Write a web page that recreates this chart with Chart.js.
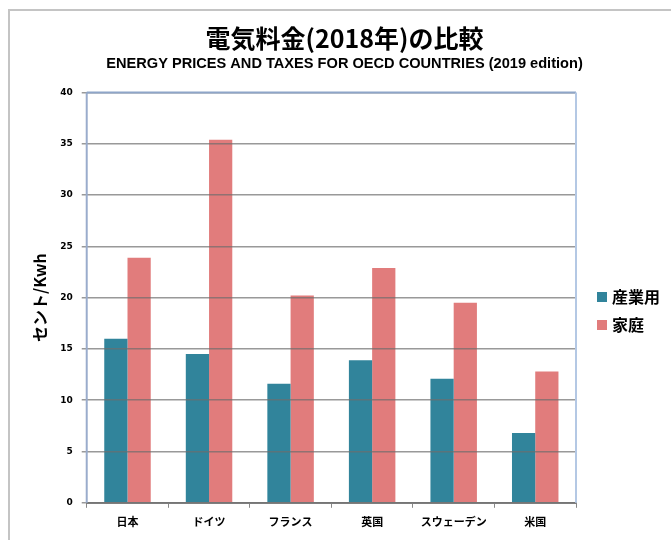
<!DOCTYPE html>
<html lang="ja">
<head>
<meta charset="UTF-8">
<title>電気料金(2018年)の比較</title>
<script src="https://cdn.jsdelivr.net/npm/chart.js"></script>
<style>
    body {
        margin: 0;
        background: #fff;
    }
    #frame {
        position: absolute;
        left: 8px;
        top: 9px;
        width: 663px;
        height: 531px;
        border-left: 2px solid #c4c4c4;
        border-top: 2px solid #c4c4c4;
    }
    #wrap {
        position: absolute;
        left: 0;
        top: 0;
        width: 671px;
        height: 540px;
    }
</style>
</head>
<body>
<div id="frame"></div>
<div id="wrap"><canvas id="chart"></canvas></div>
<script>
    const countries = ['日本', 'ドイツ', 'フランス', '英国', 'スウェーデン', '米国'];
    const industry = [16.0, 14.5, 11.6, 13.9, 12.1, 6.8];
    const household = [23.9, 35.4, 20.2, 22.9, 19.5, 12.8];
    const yTicks = [0, 5, 10, 15, 20, 25, 30, 35, 40];

    const jpFont = '"Noto Sans CJK JP", "DejaVu Sans", sans-serif';

    // plot area frame (left, top, right) + legend on the right side
    const plotExtras = {
        id: 'plotExtras',
        afterDraw(chart) {
            const a = chart.chartArea;
            const ctx = chart.ctx;
            ctx.save();
            ctx.lineWidth = 2;
            ctx.strokeStyle = '#9aaccc';
            ctx.beginPath();
            ctx.moveTo(a.left, a.bottom);
            ctx.lineTo(a.left, a.top);
            ctx.stroke();
            ctx.strokeStyle = '#8ea5c8';
            ctx.beginPath();
            ctx.moveTo(a.left, a.top);
            ctx.lineTo(a.right, a.top);
            ctx.stroke();
            ctx.strokeStyle = '#b4c8e4';
            ctx.beginPath();
            ctx.moveTo(a.right, a.top);
            ctx.lineTo(a.right, a.bottom);
            ctx.stroke();

            // legend
            ctx.font = 'bold 16px ' + jpFont;
            ctx.textBaseline = 'middle';
            chart.data.datasets.forEach((ds, i) => {
                const y = 297 + i * 28;
                ctx.fillStyle = ds.backgroundColor;
                ctx.fillRect(a.right + 21, y - 5, 10, 10);
                ctx.fillStyle = '#000';
                ctx.fillText(ds.label, a.right + 36, y);
            });
            ctx.restore();
        }
    };

    new Chart(document.getElementById('chart'), {
        type: 'bar',
        data: {
            labels: countries,
            datasets: [
                { label: '産業用', data: industry, backgroundColor: '#31849b' },
                { label: '家庭', data: household, backgroundColor: 'rgba(222,110,110,0.9)' }
            ]
        },
        options: {
            responsive: true,
            maintainAspectRatio: false,
            animation: false,
            layout: { padding: { top: 23, left: 30, right: 12, bottom: 5 } },
            datasets: {
                bar: { barPercentage: 1.0, categoryPercentage: 0.57 }
            },
            plugins: {
                title: {
                    display: true,
                    text: '電気料金(2018年)の比較',
                    color: '#000',
                    font: { family: jpFont, size: 25, weight: 'bold' },
                    padding: { top: 0, bottom: 2 }
                },
                subtitle: {
                    display: true,
                    text: 'ENERGY PRICES AND TAXES FOR OECD COUNTRIES (2019 edition)',
                    color: '#000',
                    font: { family: '"Liberation Sans", sans-serif', size: 14.6, weight: 'bold' },
                    padding: { top: 0, bottom: 20 }
                },
                legend: { display: false },
                tooltip: { enabled: false }
            },
            scales: {
                x: {
                    grid: {
                        offset: true,
                        drawOnChartArea: false,
                        drawTicks: true,
                        tickLength: 5,
                        color: '#888'
                    },
                    border: { color: '#888', width: 2 },
                    ticks: {
                        color: '#000',
                        padding: 7,
                        font: { family: jpFont, size: 11, weight: 'bold' }
                    }
                },
                y: {
                    min: 0,
                    max: 40,
                    afterBuildTicks(scale) {
                        scale.ticks = yTicks.map(v => ({ value: v }));
                    },
                    grid: {
                        z: 1,
                        color: 'rgba(110,110,110,0.7)',
                        lineWidth: 1.5,
                        tickLength: 5,
                        drawTicks: true
                    },
                    border: { display: false },
                    ticks: {
                        color: '#000',
                        padding: 9,
                        font: { family: '"DejaVu Sans", sans-serif', size: 9, weight: 'bold' }
                    },
                    title: {
                        display: true,
                        text: 'セント/Kwh',
                        color: '#000',
                        font: { family: jpFont, size: 16, weight: 'bold' },
                        padding: { top: 0, bottom: 2 }
                    }
                },
                // empty axis that only reserves room for the legend on the right
                legendSpace: {
                    position: 'right',
                    grid: { display: false },
                    border: { display: false },
                    ticks: { display: false },
                    afterFit(scale) {
                        scale.width = 83;
                    }
                }
            }
        },
        plugins: [plotExtras]
    });
</script>
</body>
</html>
